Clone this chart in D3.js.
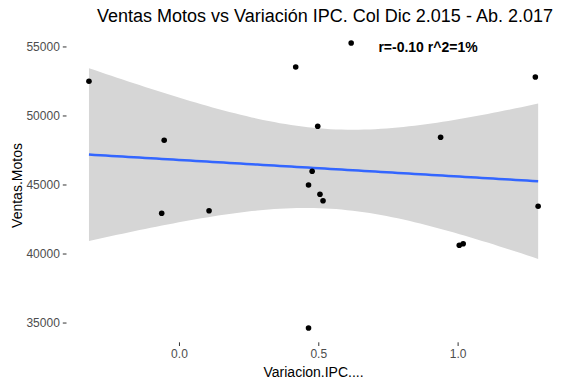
<!DOCTYPE html>
<html>
<head>
<meta charset="utf-8">
<script src="https://cdn.jsdelivr.net/npm/d3@7"></script>
<style>
body { margin: 0; background: #fff; }
svg text { font-family: "Liberation Sans", Arial, sans-serif; }
</style>
</head>
<body>
<svg id="chart" width="567" height="384"></svg>
<script>
// monthly points, Dic 2015 - Abr 2017
var ipcVar = [-0.323, 0.419, 0.498, -0.053, 0.478, 0.465, 0.506, 0.517, -0.062, 0.108, 0.465,
              0.618, 1.279, 0.939, 1.289, 1.006, 1.020];
var ventas = [52478, 53514, 49217, 48203, 45957, 44964, 44290, 43826, 42913, 43101, 34601,
              55254, 52790, 48420, 43420, 40594, 40710];
var xTicks = [0.0, 0.5, 1.0];
var yTicks = [35000, 40000, 45000, 50000, 55000];

var svg = d3.select("#chart");
var pLeft = 66.5, pRight = 560.6, pTop = 28.7, pBottom = 342.3;

var padExtent = function(arr){
    var e = d3.extent(arr), d = (e[1]-e[0])*0.05;
    return [e[0]-d, e[1]+d];
};

var x = d3.scaleLinear().domain(padExtent(ipcVar)).range([pLeft, pRight]);
var y = d3.scaleLinear().domain(padExtent(ventas)).range([pBottom, pTop]);

// linear fit + 95% band (lm)
var n = ipcVar.length;
var mx = d3.mean(ipcVar), my = d3.mean(ventas);
var sxx = 0, sxy = 0;
for (var i = 0; i < n; i++){
    sxx += (ipcVar[i]-mx)*(ipcVar[i]-mx);
    sxy += (ipcVar[i]-mx)*(ventas[i]-my);
}
var b = sxy/sxx, a = my - b*mx;
var sse = 0;
for (var i = 0; i < n; i++){
    var r = ventas[i] - (a + b*ipcVar[i]);
    sse += r*r;
}
var s = Math.sqrt(sse/(n-2));
var tq = 2.131; // t(0.975, 15)
var xr = d3.extent(ipcVar);
var grid = d3.range(0, 81).map(function(k){ return xr[0] + (xr[1]-xr[0])*k/80; });
var band = grid.map(function(xv){
    var fit = a + b*xv;
    var se = s*Math.sqrt(1/n + (xv-mx)*(xv-mx)/sxx);
    return {x: xv, fit: fit, lo: fit - tq*se, hi: fit + tq*se};
});

svg.append("path")
    .datum(band)
    .attr("fill", "#d6d6d6")
    .attr("d", d3.area().x(function(d){return x(d.x);}).y0(function(d){return y(d.lo);}).y1(function(d){return y(d.hi);}));

svg.append("path")
    .datum(band)
    .attr("fill", "none")
    .attr("stroke", "#3366ff")
    .attr("stroke-width", 2.5)
    .attr("d", d3.line().x(function(d){return x(d.x);}).y(function(d){return y(d.fit);}));

svg.selectAll("circle.pt").data(ipcVar).enter().append("circle")
    .attr("class", "pt")
    .attr("cx", function(d){return x(d);})
    .attr("cy", function(d,i){return y(ventas[i]);})
    .attr("r", 2.8)
    .attr("fill", "#000");

// axes
var xAxis = d3.axisBottom(x).tickValues(xTicks).tickFormat(d3.format(".1f")).tickSize(3.7).tickPadding(3);
var gx = svg.append("g").attr("transform", "translate(0," + pBottom + ")").call(xAxis);
var yAxis = d3.axisLeft(y).tickValues(yTicks).tickFormat(d3.format("d")).tickSize(3.7).tickPadding(3);
var gy = svg.append("g").attr("transform", "translate(" + pLeft + ",0)").call(yAxis);
[gx, gy].forEach(function(g){
    g.select(".domain").remove();
    g.selectAll(".tick line").attr("stroke", "#333333");
    g.selectAll(".tick text").attr("fill", "#4d4d4d").style("font-size", "12px");
});

// titles
svg.append("text")
    .attr("x", 325).attr("y", 22)
    .attr("text-anchor", "middle")
    .style("font-size", "18px")
    .attr("fill", "#000")
    .text("Ventas Motos vs Variación IPC. Col Dic 2.015 - Ab. 2.017");

svg.append("text")
    .attr("x", (pLeft+pRight)/2).attr("y", 377)
    .attr("text-anchor", "middle")
    .style("font-size", "14px")
    .text("Variacion.IPC....");

svg.append("text")
    .attr("transform", "translate(22," + ((pTop+pBottom)/2) + ") rotate(-90)")
    .attr("text-anchor", "middle")
    .style("font-size", "14px")
    .text("Ventas.Motos");

svg.append("text")
    .attr("x", 428).attr("y", 52)
    .attr("text-anchor", "middle")
    .style("font-size", "14px")
    .style("font-weight", "bold")
    .text("r=-0.10 r^2=1%");
</script>
</body>
</html>
